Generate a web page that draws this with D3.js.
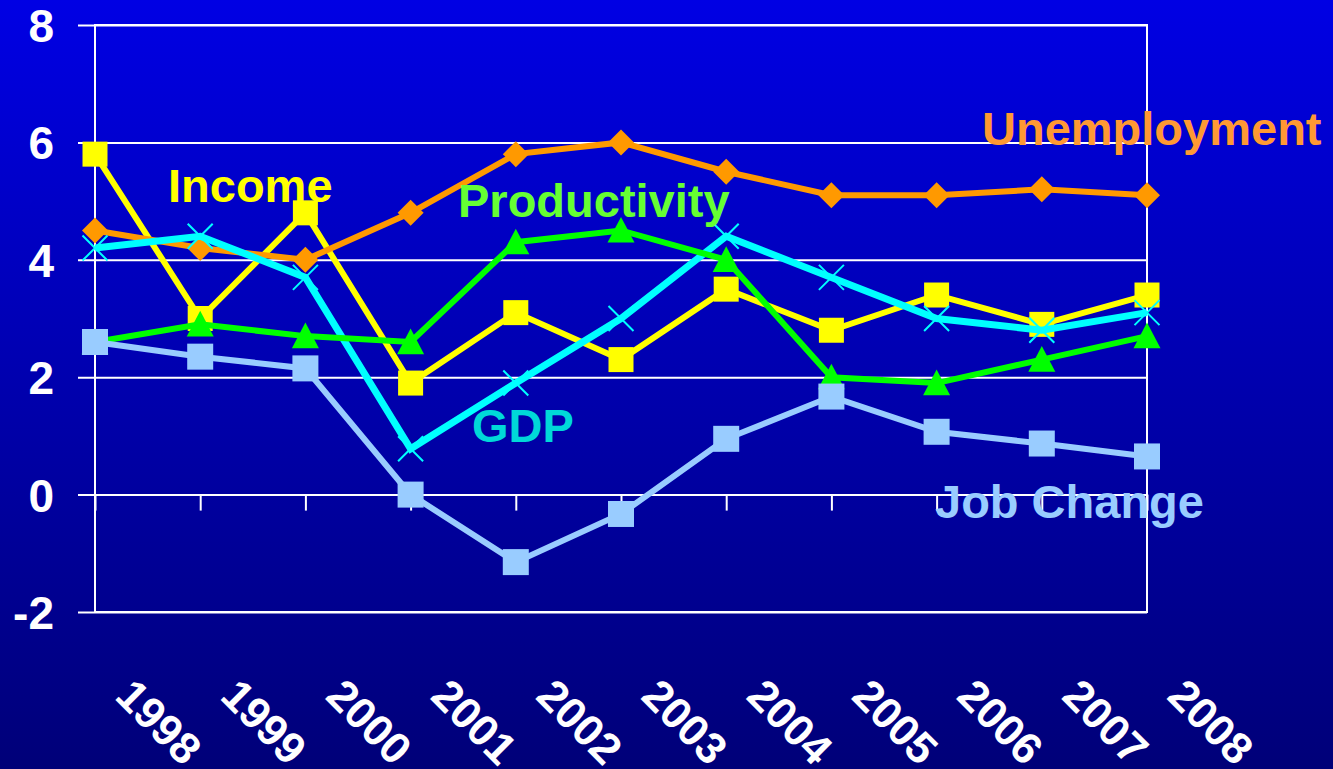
<!DOCTYPE html>
<html>
<head>
<meta charset="utf-8">
<script src="https://cdn.jsdelivr.net/npm/d3@7"></script>
<style>
  html, body { margin: 0; padding: 0; background: #000080; }
  svg { display: block; font-family: "Liberation Sans", Arial, sans-serif; font-weight: bold; }
</style>
</head>
<body>
<svg id="chart" width="1333" height="769"></svg>
<script>
// ---- data ----
const years = ["1998","1999","2000","2001","2002","2003","2004","2005","2006","2007","2008"];
const yTicks = [-2, 0, 2, 4, 6, 8];
const yTickLabels = ["-2", "0", "2", "4", "6", "8"];
const income       = [5.8, 3.0, 4.8, 1.9, 3.1, 2.3, 3.5, 2.8, 3.4, 2.9, 3.4];
const unemployment = [4.5, 4.2, 4.0, 4.8, 5.8, 6.0, 5.5, 5.1, 5.1, 5.2, 5.1];
const gdp          = [4.2, 4.4, 3.7, 0.78, 1.9, 3.0, 4.4, 3.7, 3.0, 2.8, 3.1];
const productivity = [2.6, 2.9, 2.7, 2.6, 4.3, 4.5, 4.0, 2.0, 1.9, 2.3, 2.7];
const jobChange    = [2.6, 2.35, 2.15, 0.0, -1.15, -0.33, 0.95, 1.67, 1.07, 0.87, 0.65];
const seriesNames  = ["Income", "Unemployment", "GDP", "Productivity", "Job Change"];

// ---- styling / layout ----
const W = 1333, H = 769;
const pLeft = 95, pRight = 1147, pTop = 25, pBottom = 612;
const styles = {
  "Income":       {values: income,       line: "#FFFF00", marker: "square",   size: 25, width: 6, label: "#FFFF00", lx: 168, ly: 202},
  "Unemployment": {values: unemployment, line: "#FF9900", marker: "diamond",  size: 26, width: 6, label: "#FF9933", lx: 982, ly: 145},
  "GDP":          {values: gdp,          line: "#00FFFF", marker: "x",        size: 25, width: 7, label: "#00D8D8", lx: 472, ly: 442},
  "Productivity": {values: productivity, line: "#00FF00", marker: "triangle", size: 27, width: 6, label: "#66FF33", lx: 458, ly: 217},
  "Job Change":   {values: jobChange,    line: "#99CCFF", marker: "square",   size: 26, width: 6, label: "#99CCFF", lx: 935, ly: 518}
};

const svg = d3.select("#chart");
const defs = svg.append("defs");
const grad = defs.append("linearGradient").attr("id", "bg").attr("x1", 0).attr("y1", 0).attr("x2", 0).attr("y2", 1);
grad.append("stop").attr("offset", "0%").attr("stop-color", "#0000E4");
grad.append("stop").attr("offset", "100%").attr("stop-color", "#000078");
svg.append("rect").attr("width", W).attr("height", H).attr("fill", "url(#bg)");

const x = d3.scalePoint().domain(years).range([pLeft, pRight]);
const y = d3.scaleLinear().domain([-2, 8]).range([pBottom, pTop]);

// y axis with gridlines (extend left to x=78)
const gAxisY = svg.append("g")
  .attr("transform", `translate(${pRight},0)`)
  .call(d3.axisLeft(y).tickValues(yTicks).tickSize(pRight - 78).tickPadding(24)
    .tickFormat((d, i) => yTickLabels[i]));
gAxisY.select(".domain").remove();
gAxisY.selectAll(".tick line").attr("stroke", "#fff").attr("stroke-width", 2);
gAxisY.selectAll(".tick text")
  .attr("fill", "#fff").attr("font-size", 46).attr("font-weight", "bold")
  .attr("font-family", "Liberation Sans, Arial, sans-serif").attr("dy", "0.36em");

// plot border
svg.append("rect").attr("x", pLeft).attr("y", pTop).attr("width", pRight - pLeft).attr("height", pBottom - pTop)
  .attr("fill", "none").attr("stroke", "#fff").attr("stroke-width", 2);

// x axis ticks at zero line
const gAxisX = svg.append("g")
  .attr("transform", `translate(0,${y(0)})`)
  .call(d3.axisBottom(x).tickSize(16).tickPadding(0));
gAxisX.select(".domain").remove();
gAxisX.selectAll(".tick line").attr("stroke", "#fff").attr("stroke-width", 2);
gAxisX.selectAll(".tick text")
  .attr("fill", "#fff").attr("font-size", 44).attr("font-weight", "bold")
  .attr("font-family", "Liberation Sans, Arial, sans-serif")
  .attr("text-anchor", "start").attr("x", 0).attr("y", 0).attr("dy", 0)
  .attr("transform", `translate(18,${698 - y(0)}) rotate(45)`);

// series
const lineGen = d3.line().x((d, i) => x(years[i])).y(d => y(d));
function markerPath(type, s) {
  const h = s / 2;
  if (type === "square") return `M${-h},${-h}H${h}V${h}H${-h}Z`;
  if (type === "diamond") return `M0,${-h}L${h},0L0,${h}L${-h},0Z`;
  if (type === "triangle") return `M0,${-h}L${h},${h * 0.9}L${-h},${h * 0.9}Z`;
  return `M${-h},${-h}L${h},${h}M${-h},${h}L${h},${-h}`;
}
seriesNames.forEach(name => {
  const st = styles[name];
  const g = svg.append("g").attr("class", "series");
  g.append("path").datum(st.values).attr("d", lineGen)
    .attr("fill", "none").attr("stroke", st.line).attr("stroke-width", st.width)
    .attr("stroke-linejoin", "miter");
  g.selectAll("path.m").data(st.values).join("path").attr("class", "m")
    .attr("transform", (d, i) => `translate(${x(years[i])},${y(d)})`)
    .attr("d", markerPath(st.marker, st.size))
    .attr("fill", st.marker === "x" ? "none" : st.line)
    .attr("stroke", st.marker === "x" ? st.line : "none")
    .attr("stroke-width", 2);
});

// series labels
seriesNames.forEach(name => {
  const st = styles[name];
  svg.append("text").attr("x", st.lx).attr("y", st.ly)
    .attr("fill", st.label).attr("font-size", 47).attr("font-weight", "bold")
    .text(name);
});
</script>
</body>
</html>
